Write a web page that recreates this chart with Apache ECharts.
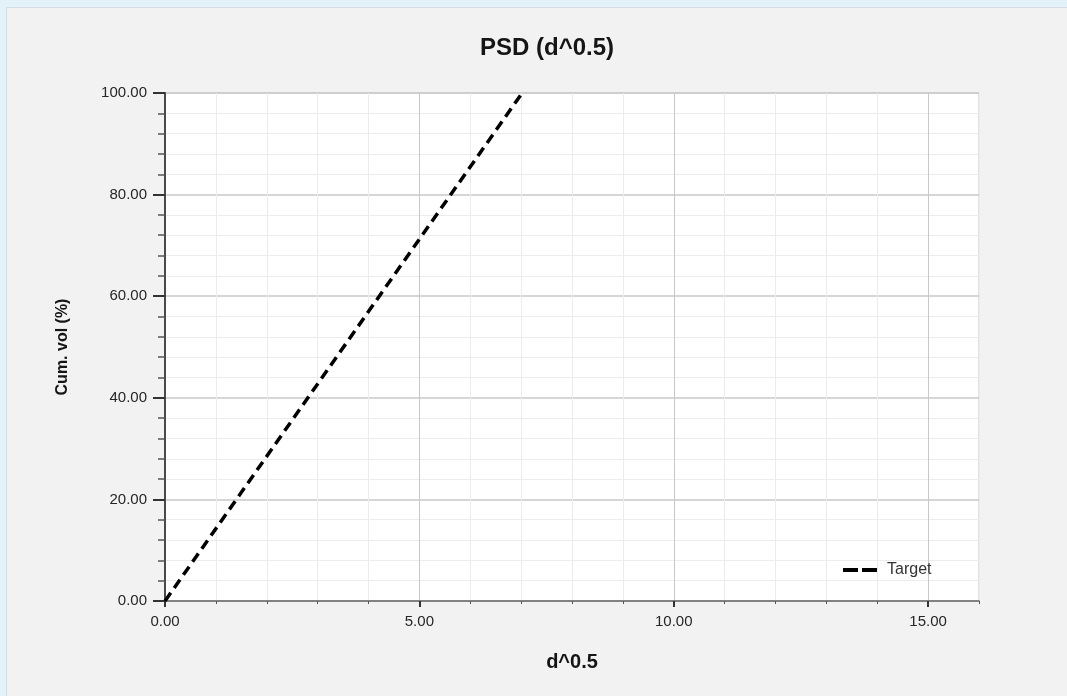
<!DOCTYPE html>
<html>
<head>
<meta charset="utf-8">
<script src="https://cdn.jsdelivr.net/npm/echarts@6/dist/echarts.min.js"></script>
<style>
  html, body { margin: 0; padding: 0; width: 1067px; height: 696px; overflow: hidden; background: #e3f1f8; }
  #panel { position: absolute; left: 6px; top: 7px; right: 0; bottom: 0; background: #f2f2f2; border-left: 1px solid #d6dde1; border-top: 1px solid #d6dde1; }
  #chart { position: absolute; left: 0; top: 0; width: 1067px; height: 696px; }
</style>
</head>
<body>
<div id="panel"></div>
<div id="chart"></div>
<script>
// ---- data ----
const titleText = 'PSD (d^0.5)';
const xName = 'd^0.5';
const yName = 'Cum. vol (%)';
const seriesName = 'Target';
const targetX = [0, 7.02];
const targetY = [0, 100];
const xMajorTicks = [0, 5, 10, 15];
const xMin = 0, xMax = 16;
const yMin = 0, yMax = 100;

const chart = echarts.init(document.getElementById('chart'), null, { renderer: 'canvas' });
const tickFont = { fontFamily: 'Liberation Sans, Arial, sans-serif', fontSize: 15, color: '#262626' };

const option = {
  backgroundColor: 'transparent',
  animation: false,
  title: {
    text: titleText,
    left: 542,
    textAlign: 'center',
    top: 31,
    textStyle: { fontFamily: 'Liberation Sans, Arial, sans-serif', fontWeight: 'bold', fontSize: 24, color: '#151515' }
  },
  legend: {
    data: [{
      name: seriesName,
      icon: 'path://M0,0h15v4h-15z M19,0h15v4h-15z',
      itemStyle: { color: '#000', borderWidth: 0 }
    }],
    left: 838,
    top: 557,
    itemWidth: 34,
    itemHeight: 4,
    lineStyle: { width: 0 },
    textStyle: { fontFamily: 'Liberation Sans, Arial, sans-serif', fontSize: 16, color: '#333', padding: [0, 0, 0, 5] }
  },
  grid: {
    left: 165, top: 93, right: 88, bottom: 95,
    show: true, backgroundColor: '#ffffff', borderColor: '#c4c4c4', borderWidth: 1
  },
  xAxis: [
    {
      type: 'value', min: xMin, max: xMax, interval: 1, position: 'bottom',
      axisLine: { show: true, onZero: false, lineStyle: { color: '#6a6a6a', width: 1.5 } },
      axisTick: { show: true, length: 3, lineStyle: { color: '#555' } },
      axisLabel: { show: false },
      splitLine: { show: true, lineStyle: { color: ['#c8c8c8', '#ececec', '#ececec', '#ececec', '#ececec'], width: 1 } }
    },
    {
      type: 'value', min: xMin, max: xMax, interval: 5, position: 'bottom',
      name: xName, nameLocation: 'middle', nameGap: 51,
      nameTextStyle: { fontFamily: 'Liberation Sans, Arial, sans-serif', fontWeight: 'bold', fontSize: 20, color: '#151515' },
      axisLine: { show: false, onZero: false },
      axisTick: { show: true, length: 6, customValues: xMajorTicks, lineStyle: { color: '#333', width: 2 } },
      axisLabel: Object.assign({ show: true, margin: 13, customValues: xMajorTicks, formatter: v => v.toFixed(2) }, tickFont),
      splitLine: { show: false }
    }
  ],
  yAxis: {
    type: 'value', min: yMin, max: yMax, interval: 20,
    name: yName, nameLocation: 'middle', nameGap: 94, nameRotate: 90,
    nameTextStyle: { fontFamily: 'Liberation Sans, Arial, sans-serif', fontWeight: 'bold', fontSize: 16, color: '#151515' },
    axisLine: { show: true, onZero: false, lineStyle: { color: '#4a4a4a', width: 2 } },
    axisTick: { show: true, length: 12, lineStyle: { color: '#333', width: 2 } },
    minorTick: { show: true, splitNumber: 5, length: 7, lineStyle: { color: '#555', width: 1.5 } },
    axisLabel: Object.assign({ margin: 18, formatter: v => v.toFixed(2) }, tickFont),
    splitLine: { show: true, lineStyle: { color: '#c8c8c8', width: 1.5 } },
    minorSplitLine: { show: true, lineStyle: { color: '#ececec', width: 1 } }
  },
  series: [{
    name: seriesName,
    type: 'line',
    xAxisIndex: 0,
    symbol: 'none',
    data: targetX.map((x, i) => [x, targetY[i]]),
    lineStyle: { color: '#000', width: 3.5, type: [10, 6] },
    itemStyle: { color: '#000' },
    z: 5
  }]
};
chart.setOption(option);
</script>
</body>
</html>
